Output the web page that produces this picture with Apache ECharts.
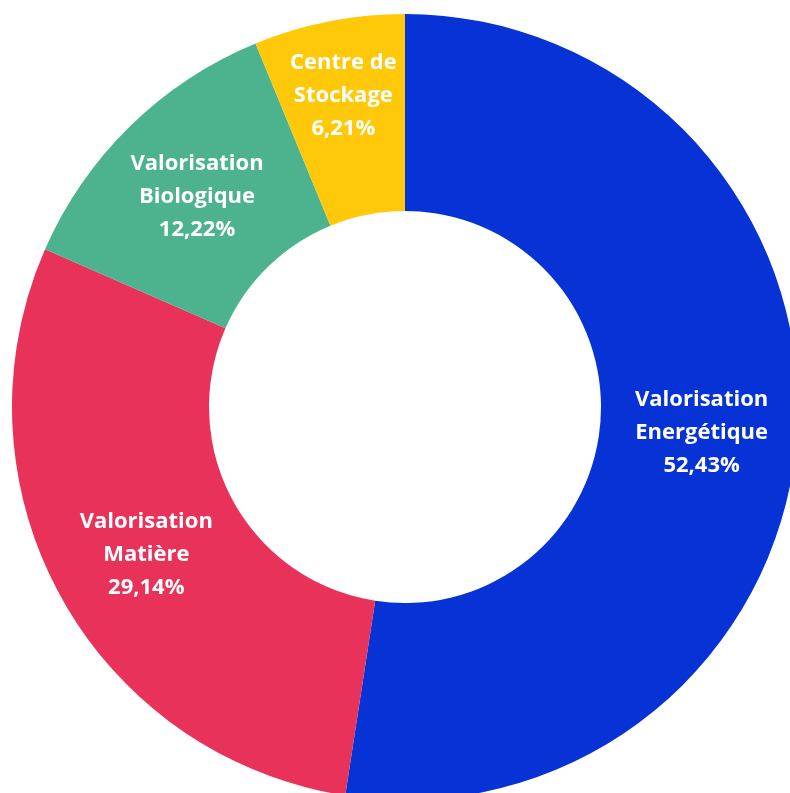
<!DOCTYPE html>
<html>
<head>
<meta charset="utf-8">
<script src="https://cdn.jsdelivr.net/npm/echarts@6/dist/echarts.min.js"></script>
<style>
  html, body { margin: 0; padding: 0; background: #ffffff; }
  #chart { width: 790px; height: 793px; }
</style>
</head>
<body>
<div id="chart"></div>
<script>
// Répartition des filières de traitement (%)
const categories = [
  'Valorisation\nEnergétique',
  'Valorisation\nMatière',
  'Valorisation\nBiologique',
  'Centre de\nStockage'
];
const shares = [52.43, 29.14, 12.22, 6.21];
const colors = ['#0632D6', '#E8325A', '#4DB38F', '#FFC90A'];

const chart = echarts.init(document.getElementById('chart'), null, { renderer: 'canvas' });

const fmt = v => v.toFixed(2).replace('.', ',') + '%';

// small nudges of the inside labels
const labelShift = [
  { dx: 0, dy: 3 },
  { dx: 2, dy: 4 },
  { dx: 0, dy: 2 },
  { dx: -4, dy: -19 }
];

chart.setOption({
  animation: false,
  backgroundColor: '#ffffff',
  series: [{
    type: 'pie',
    center: [405, 407],
    radius: [196, 393],
    startAngle: 90,
    clockwise: true,
    avoidLabelOverlap: false,
    itemStyle: { borderWidth: 0 },
    label: {
      show: true,
      position: 'inside',
      color: '#ffffff',
      fontFamily: 'Open Sans',
      fontWeight: 'bold',
      fontSize: 22,
      lineHeight: 33,
      align: 'center',
      formatter: p => p.name + '\n' + fmt(p.value)
    },
    labelLine: { show: false },
    labelLayout: p => labelShift[p.dataIndex],
    data: categories.map((name, i) => ({
      name,
      value: shares[i],
      itemStyle: { color: colors[i] }
    }))
  }]
});
</script>
</body>
</html>
